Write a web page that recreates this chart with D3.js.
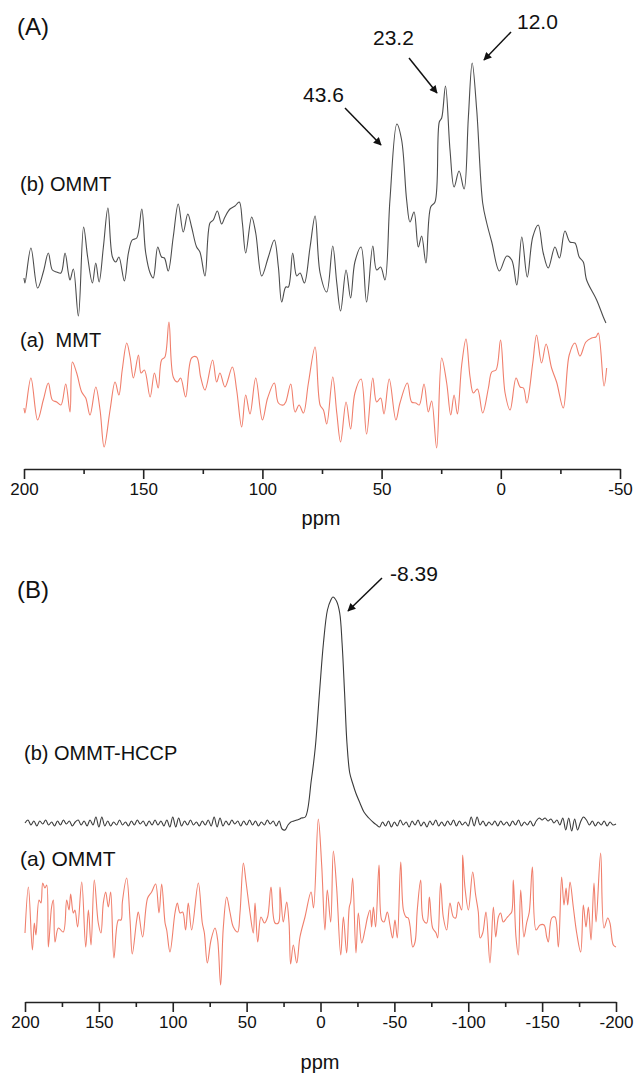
<!DOCTYPE html>
<html><head><meta charset="utf-8">
<script src="https://cdn.jsdelivr.net/npm/d3@7"></script>
<style>body{margin:0;background:#fff}svg{display:block}text{font-family:"Liberation Sans",Arial,sans-serif}</style>
</head><body><svg id="c" width="634" height="1081"></svg>
<script>
// ---------- data ----------
const ticksA = [200,150,100,50,0,-50];
const minorA = [175,125,75,25,-25];
const ticksB = [200,150,100,50,0,-50,-100,-150,-200];
const minorB = [175,125,75,25,-25,-75,-125,-175];

// Panel A (b) OMMT  [ppm, intensity]
const ommtA = [[200,2],[199.6,-3],[197.1,32],[194.3,-8],[191.9,8],[189.8,27],[188.1,10],[186.3,8],[184.5,7],[182.8,27],[181.4,7],[180.7,0],[179.3,11],[177.2,-36],[175.0,53],[173.3,23],[171.3,-3],[169.9,17],[168.5,-2],[166.7,33],[164.8,72],[162.9,23],[161.5,18],[160.2,23],[157.9,-1],[156.2,27],[154.6,40],[152.7,42],[150.6,71],[149.0,28],[147.1,7],[145.8,2],[143.9,33],[142.3,23],[141.1,22],[139.5,9],[137.4,43],[135.3,76],[133.2,48],[131.3,66],[129.7,53],[127.6,33],[126.2,28],[124.1,4],[122.0,57],[120.6,60],[118.9,69],[117.1,56],[115.7,63],[113.6,71],[111.5,74],[109.7,78],[108.4,57],[107.0,27],[104.5,63],[102.8,47],[100.3,4],[97.5,23],[95.0,40],[93.3,13],[91.9,-22],[90.2,-7],[89.1,-7],[87.3,27],[85.6,4],[84.2,7],[82.4,-3],[80.0,33],[77.9,64],[75.8,7],[73.0,-12],[70.5,34],[68.8,-3],[67.2,-31],[64.9,10],[63.0,-18],[61.2,18],[58.6,33],[56.3,-22],[53.7,34],[52.1,10],[50.4,13],[48.6,0],[46.5,80],[43.6,156],[41.6,140],[39.5,80],[38.1,58],[36.4,68],[34.6,33],[33.2,44],[31.4,17],[29.4,73],[27.6,78],[25.8,158],[24.8,162],[23.2,194],[21.3,130],[19.6,93],[17.5,109],[15.4,91],[13.6,163],[12.0,217],[10.1,170],[7.6,77],[5.9,57],[3.8,38],[0.6,9],[-2.5,24],[-4.6,20],[-6.7,-5],[-8.8,43],[-11.1,3],[-13.4,43],[-15.7,55],[-17.8,27],[-19.9,12],[-22.7,33],[-24.6,22],[-26.9,49],[-29.0,38],[-31.1,37],[-32.9,23],[-34.6,18],[-36.0,0],[-40.2,-20],[-43.0,-37],[-44.1,-43]];

// Panel A (a) MMT
const mmtA = [[200,2],[199.6,-3],[197.1,32],[194.3,-10],[191.9,10],[189.8,27],[188.1,10],[186.3,8],[184.5,5],[182.5,26],[180.7,-2],[179.7,48],[177.9,37],[175.8,18],[174.1,12],[172.3,-5],[169.9,23],[168.1,0],[166.4,-37],[163.9,0],[161.8,28],[160.2,15],[158.8,40],[156.9,67],[155.5,53],[154.1,32],[152.0,55],[150.9,37],[149.5,40],[147.1,13],[145.3,37],[143.7,22],[142.3,50],[140.9,53],[139.2,88],[137.4,33],[135.7,28],[134.3,32],[132.2,13],[129.7,52],[127.6,53],[125.9,33],[124.1,20],[120.9,50],[119.2,28],[117.8,37],[115.7,23],[112.6,43],[110.8,20],[108.7,-17],[107.0,15],[105.2,-4],[102.8,32],[100.0,-10],[97.8,12],[95.0,27],[93.3,7],[91.2,5],[90.2,8],[88.1,26],[86.3,-2],[84.6,5],[82.8,-3],[80.7,27],[77.9,63],[75.8,5],[74.4,0],[73.0,-14],[70.5,33],[68.8,-3],[67.2,-32],[64.9,8],[63.0,-19],[61.2,17],[58.6,31],[56.3,-24],[53.7,32],[52.1,8],[50.4,12],[49.0,-4],[46.8,31],[44.0,-10],[42.3,7],[39.2,27],[37.4,8],[35.6,7],[34.2,5],[32.2,26],[30.4,-2],[29.0,9],[26.9,-38],[24.8,52],[22.7,27],[21.0,-5],[19.6,15],[18.2,-4],[16.4,45],[14.6,71],[12.9,33],[11.5,17],[9.8,21],[7.6,-3],[5.2,22],[3.8,38],[2.0,40],[0.1,70],[-1.8,17],[-3.9,0],[-6.4,32],[-8.1,23],[-9.5,22],[-10.9,7],[-13.4,47],[-15.0,75],[-17.1,47],[-19.0,66],[-21.3,42],[-23.4,28],[-26.2,2],[-28.7,55],[-31.1,67],[-33.2,54],[-35.7,68],[-38.1,72],[-39.9,73],[-40.9,77],[-43.3,24],[-44.4,42]];

// Panel B (b) OMMT-HCCP : baseline noise sampled every 2 ppm + main peak
const hccpLeftNoise = [0,3,-2,2,-3,2,-1,3,-2,1,-3,2,-2,3,-1,2,-3,1,3,-2,2,-3,3,-2,6,-4,6,-3,2,-3,1,-2,3,-2,1,-3,2,-2,3,-1,2,-3,2,-2,3,-2,2,-3,3,-4,6,-4,5,-3,2,-2,3,-2,1,-3,2,-2,3,-3,6,-4,5,-3,2,-2,3,-1,2,-3,2,-2,3,-2,2,-3,1,-2,3,-1,2,-3,2,-6,-7,-2,1,2,3,4];
const hccpPeak = [[13.0,5],[10.3,6],[6.2,43],[3.5,76],[0.7,130],[-2.0,180],[-4.7,213],[-7.0,223],[-8.39,226],[-10.8,222],[-13.0,210],[-14.6,180],[-16.3,130],[-17.9,80],[-19.8,50],[-21.7,40],[-23.9,30],[-26.7,20],[-29.4,11],[-32.7,5],[-36.2,0]];
const hccpRightNoise = [-2,-4,1,-3,2,-4,1,-3,3,-2,1,-4,2,-2,3,-3,1,-4,2,-2,3,-3,1,-3,2,-2,3,-3,2,-2,1,-3,6,-3,6,-2,2,-3,1,-2,2,-3,2,-2,1,-3,2,-2,3,-3,1,-2,2,-3,2,5,3,5,2,4,0,3,-2,5,-7,5,-8,4,-7,1,6,3,-2,2,-3,1,-2,2,-3,1,-2,-1];

// Panel B (a) OMMT
const ommtB = [[200,-3],[197.7,43],[195.0,-20],[193.7,7],[192.6,-5],[190.5,30],[189.2,27],[188.0,47],[186.5,42],[185.3,45],[184.2,-17],[182.0,23],[180.8,30],[179.7,-12],[177.4,2],[174.1,-2],[171.8,30],[170.2,20],[169.1,36],[167.3,17],[166.2,20],[164.4,3],[161.6,48],[158.9,-17],[157.1,20],[155.3,-15],[153.1,50],[150.4,7],[148.6,-3],[147.0,27],[145.4,38],[143.6,23],[142.0,38],[139.8,-28],[136.8,10],[135.0,10],[134.1,28],[131.2,52],[128.9,10],[127.4,-24],[124.4,10],[123.3,18],[120.4,-7],[117.0,32],[114.3,38],[111.6,46],[109.3,17],[107.5,46],[105.2,7],[104.1,0],[101.9,-22],[98.5,17],[96.9,27],[95.1,17],[93.3,18],[91.3,0],[89.5,27],[87.2,0],[82.7,47],[80.0,7],[78.6,-3],[76.6,-33],[74.1,-10],[71.4,2],[69.6,-10],[67.6,-55],[65.8,2],[63.5,33],[61.3,18],[59.0,3],[56.1,-2],[54.5,17],[52.2,67],[50.4,48],[47.7,17],[45.5,-3],[44.3,27],[42.5,-12],[40.3,13],[38.0,7],[35.8,13],[33.5,43],[30.8,7],[28.5,7],[27.4,43],[25.2,8],[22.9,28],[21.3,7],[20.2,-34],[18.4,-15],[16.1,-33],[13.9,-7],[10.5,13],[6.4,38],[4.7,22],[1.5,111],[-0.8,65],[-3.0,0],[-4.6,40],[-6.9,8],[-8.7,79],[-10.9,43],[-13.7,-25],[-15.5,13],[-17.7,-23],[-19.5,23],[-20.4,28],[-21.8,52],[-24.0,-23],[-25.6,17],[-27.9,-13],[-30.1,0],[-31.7,12],[-33.5,20],[-34.6,3],[-35.8,23],[-37.3,3],[-39.6,65],[-41.4,10],[-43.0,8],[-45.2,18],[-47.0,5],[-48.8,-8],[-50.4,10],[-52.0,-8],[-54.3,68],[-56.1,20],[-57.9,13],[-59.4,12],[-60.6,4],[-62.4,-17],[-64.0,-12],[-65.5,20],[-67.8,50],[-69.6,10],[-71.9,7],[-73.7,33],[-75.9,2],[-78.2,-3],[-79.3,-8],[-81.3,47],[-83.1,13],[-85.4,0],[-87.6,27],[-89.9,13],[-91.5,12],[-93.3,28],[-95.5,20],[-96.2,75],[-97.8,42],[-100.1,20],[-103.0,58],[-105.0,35],[-106.8,18],[-108.0,-8],[-109.8,-3],[-112.0,18],[-114.7,-33],[-117.0,23],[-118.6,-7],[-120.4,13],[-121.9,17],[-123.7,8],[-126.0,12],[-127.8,15],[-129.4,18],[-130.5,50],[-132.3,-7],[-133.9,-25],[-135.5,40],[-137.7,-7],[-139.5,7],[-141.3,18],[-143.4,63],[-145.9,0],[-148.6,5],[-151.3,5],[-153.1,-7],[-154.2,-12],[-156.5,12],[-158.7,13],[-161.0,-17],[-163.2,53],[-164.8,25],[-166.2,42],[-167.3,25],[-168.9,48],[-171.1,23],[-173.4,-3],[-176.1,-22],[-177.9,25],[-179.7,3],[-181.3,23],[-183.1,-10],[-185.1,47],[-186.5,8],[-189.6,77],[-191.9,2],[-194.4,12],[-195.9,7],[-198.2,-15],[-200,-17]];

const peakLabelsA = [{t:"43.6",ppm:43.6},{t:"23.2",ppm:23.2},{t:"12.0",ppm:12.0}];
const peakLabelB = {t:"-8.39",ppm:-8.39};

// ---------- build ----------
const hccpB = d3.range(200, 13, -2).map((p,i)=>[p,hccpLeftNoise[i]])
  .concat(hccpPeak)
  .concat(d3.range(-38, -201, -2).map((p,i)=>[p,hccpRightNoise[i]]));

const svg = d3.select("#c");
const FONT = '"Liberation Sans",Arial,sans-serif';

const xA = d3.scaleLinear().domain([200,-50]).range([24,620]);
const yA = d3.scaleLinear().domain([0,400]).range([460,60]);
const xB = d3.scaleLinear().domain([200,-200]).range([25,616]);
const yB = d3.scaleLinear().domain([0,400]).range([990,590]);

const offA = {ommt:180, mmt:50};
const offB = {hccp:167, ommt:60};

function curve(x,y,off){
  return d3.line().x(d=>x(d[0])).y(d=>y(d[1]+off)).curve(d3.curveCatmullRom.alpha(0.5));
}
const BLACK="#4d4d4d", RED="#f07f6c";

svg.append("path").datum(ommtA).attr("d",curve(xA,yA,offA.ommt)).attr("fill","none").attr("stroke",BLACK).attr("stroke-width",1.1);
svg.append("path").datum(mmtA).attr("d",curve(xA,yA,offA.mmt)).attr("fill","none").attr("stroke",RED).attr("stroke-width",1.1);
svg.append("path").datum(hccpB).attr("d",curve(xB,yB,offB.hccp)).attr("fill","none").attr("stroke","#3a3a3a").attr("stroke-width",1.1);
svg.append("path").datum(ommtB).attr("d",curve(xB,yB,offB.ommt)).attr("fill","none").attr("stroke",RED).attr("stroke-width",1.1);

function axis(x, y, major, minor){
  const g = svg.append("g").attr("transform",`translate(0,${y})`)
    .call(d3.axisBottom(x).tickValues(major).tickSize(10).tickSizeOuter(0).tickPadding(4).tickFormat(d=>String(d)));
  g.select(".domain").attr("stroke","#222").attr("stroke-width",1.6);
  g.selectAll(".tick line").attr("stroke","#222").attr("stroke-width",1.6);
  g.selectAll(".tick text").attr("font-size",17).attr("fill","#111").attr("font-family",FONT);
  const m = svg.append("g").attr("transform",`translate(0,${y})`)
    .call(d3.axisBottom(x).tickValues(minor).tickSize(5).tickFormat(""));
  m.select(".domain").remove();
  m.selectAll(".tick line").attr("stroke","#222").attr("stroke-width",1.6);
}
axis(xA, 469, ticksA, minorA);
axis(xB, 1002, ticksB, minorB);

function txt(s,x,y,size,anchor){
  svg.append("text").attr("x",x).attr("y",y).attr("font-size",size).attr("font-family",FONT)
    .attr("fill","#111").attr("text-anchor",anchor||"start").attr("xml:space","preserve").style("white-space","pre").text(s);
}
txt("(A)",17,35,24);
txt("(B)",17,598,24);
txt("(b) OMMT",20,191,20);
txt("(a)  MMT",20,347,20);
txt("(b) OMMT-HCCP",24,760,20);
txt("(a) OMMT",20,866,21);
txt("ppm",321,525,20,"middle");
txt("ppm",320,1069,20,"middle");

// peak annotations
svg.append("defs").append("marker").attr("id","ah").attr("viewBox","0 0 10 10").attr("refX",9).attr("refY",5)
  .attr("markerWidth",11).attr("markerHeight",8).attr("markerUnits","userSpaceOnUse").attr("orient","auto")
  .append("path").attr("d","M0,0 L10,5 L0,10 z").attr("fill","#111");
const annA = [
  {lab:peakLabelsA[0], tx:303, ty:102, x1:345, y1:108, x2:381, y2:145},
  {lab:peakLabelsA[1], tx:373, ty:45,  x1:409, y1:58,  x2:437, y2:93},
  {lab:peakLabelsA[2], tx:517, ty:29,  x1:511, y1:32,  x2:484, y2:60}
];
annA.forEach(a=>{
  txt(a.lab.t,a.tx,a.ty,21);
  svg.append("line").attr("x1",a.x1).attr("y1",a.y1).attr("x2",a.x2).attr("y2",a.y2)
    .attr("stroke","#111").attr("stroke-width",1.5).attr("marker-end","url(#ah)");
});
txt(peakLabelB.t,390,581,21);
svg.append("line").attr("x1",382).attr("y1",578).attr("x2",348).attr("y2",611)
  .attr("stroke","#111").attr("stroke-width",1.5).attr("marker-end","url(#ah)");
</script></body></html>
